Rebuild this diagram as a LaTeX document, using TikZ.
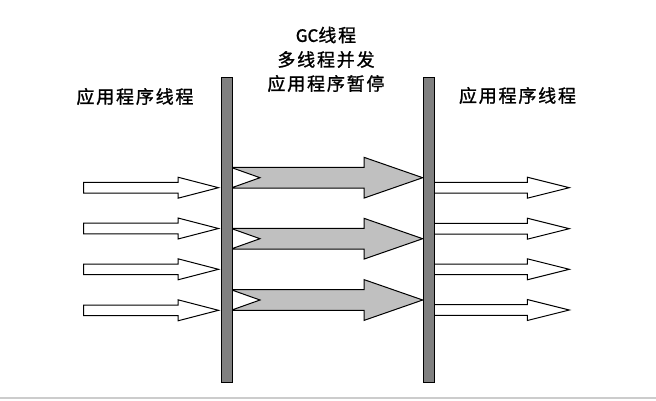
\documentclass[tikz,border=0pt]{standalone}
\usepackage{fontspec}
\newfontfamily\cjk[LetterSpace=10,FakeBold=1.2]{Noto Sans CJK SC}
\newfontfamily\cjkplain[FakeBold=1.2]{Noto Sans CJK SC}
\definecolor{bargray}{RGB}{128,128,128}
\definecolor{gcgray}{RGB}{192,192,192}
\begin{document}
\begin{tikzpicture}[x=1pt,y=-1pt,
  lbl/.style={font=\cjk\fontsize{18}{24}\selectfont, inner sep=0pt, align=center},
  whitearrow/.style={draw=black, fill=white, line width=1pt, line join=miter},
  gcarrow/.style={draw=black, fill=gcgray, line width=1pt, line join=miter},
  bar/.style={draw=black, fill=bargray, line width=1.1pt, minimum width=11pt, minimum height=305pt, inner sep=0pt, anchor=north west}]
\useasboundingbox (0,0) rectangle (656,400);
% bottom border line
\draw[gray!40, line width=1.2pt] (0,398) -- (656,398);
% left white arrows
\foreach \y in {187.7,228.5,269.3,310.3}{
  \draw[whitearrow] (83.5,\y-5.3) -- (178,\y-5.3) -- (178,\y-10.5) -- (218.5,\y)
    -- (178,\y+10.5) -- (178,\y+5.3) -- (83.5,\y+5.3) -- cycle;
}
% right white arrows
\foreach \y in {187.7,228.7,269.3,310}{
  \draw[whitearrow] (433,\y-5.3) -- (527.3,\y-5.3) -- (527.3,\y-10.5) -- (569.3,\y)
    -- (527.3,\y+10.5) -- (527.3,\y+5.3) -- (433,\y+5.3);
}
% GC arrows
\foreach \y in {177.7,238.7,300}{
  \draw[gcarrow] (231,\y-10.3) -- (364,\y-10.3) -- (364,\y-20.4) -- (422.7,\y)
    -- (364,\y+20.4) -- (364,\y+10.3) -- (231,\y+10.3) -- (260,\y) -- cycle;
}
% bars
\node[bar] (leftbar) at (220.5,77) {};
\node[bar] (rightbar) at (423,77) {};
% labels
\node[lbl] (lefttext) at (135,96.5) {应用程序线程};
\node[lbl] (righttext) at (517.5,95.5) {应用程序线程};
\node[lbl] (gc1) at (326,35) {{\cjkplain\fontsize{17}{24}\selectfont GC}线程};
\node[lbl] (gc2) at (326,59.5) {多线程并发};
\node[lbl] (gc3) at (326,83.5) {应用程序暂停};
\end{tikzpicture}
\end{document}
